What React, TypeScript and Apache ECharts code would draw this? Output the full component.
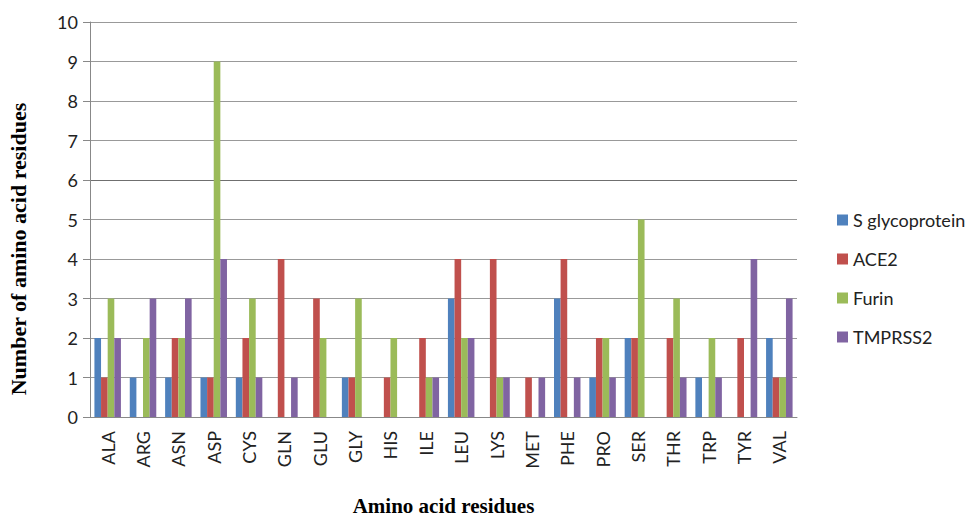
import React, { useEffect, useRef } from "react";
import * as echarts from "echarts";

const categories = ["ALA","ARG","ASN","ASP","CYS","GLN","GLU","GLY","HIS","ILE","LEU","LYS","MET","PHE","PRO","SER","THR","TRP","TYR","VAL"];
const sGlycoprotein = [2,1,1,1,1,0,0,1,0,0,3,0,0,3,1,2,0,1,0,2];
const ace2 =          [1,0,2,1,2,4,3,1,1,2,4,4,1,4,2,2,2,0,2,1];
const furin =         [3,2,2,9,3,0,2,3,2,1,2,1,0,0,2,5,3,2,0,1];
const tmprss2 =       [2,3,3,4,1,1,0,0,0,1,2,1,1,1,1,0,1,1,4,3];
const seriesNames = ["S glycoprotein","ACE2","Furin","TMPRSS2"];
const colors = ["#4F81BD","#C0504D","#9BBB59","#8064A2"];
const yTitle = "Number of amino acid residues";
const xTitle = "Amino acid residues";

export default function App() {
  const ref = useRef<HTMLDivElement>(null);
  useEffect(() => {
    const chart = echarts.init(ref.current!, null, { renderer: "svg" });
    const data = [sGlycoprotein, ace2, furin, tmprss2];
    const gridColors = ["#999","#999","#999","#999","#999","#999","#6f6f6f","#999","#999","#999","#999"];
    chart.setOption({
      animation: false,
      grid: { left: 90, right: 177, top: 22, bottom: 103, containLabel: false, outerBoundsMode: "none" },
      legend: {
        orient: "vertical",
        left: 832,
        top: 206,
        itemWidth: 11,
        itemHeight: 11,
        itemGap: 21,
        icon: "rect",
        textStyle: { fontFamily: "Lato", fontSize: 18, color: "#222" },
        data: seriesNames,
      },
      graphic: [
        {
          type: "text",
          x: 18,
          y: 249,
          rotation: Math.PI / 2,
          style: {
            text: yTitle,
            align: "center",
            verticalAlign: "middle",
            fontFamily: "Liberation Serif",
            fontWeight: "bold",
            fontSize: 22,
            fill: "#000",
          },
        },
      ],
      xAxis: {
        type: "category",
        data: categories,
        name: xTitle,
        nameLocation: "middle",
        nameGap: 78,
        nameTextStyle: { fontFamily: "Liberation Serif", fontWeight: "bold", fontSize: 21, color: "#000" },
        axisLine: { lineStyle: { color: "#888" } },
        axisTick: { length: 7, lineStyle: { color: "#888" } },
        axisLabel: { rotate: 90, margin: 14, fontFamily: "Lato", fontSize: 18, color: "#222" },
      },
      yAxis: {
        type: "value",
        min: 0,
        max: 10,
        interval: 1,
        axisLine: { show: true, lineStyle: { color: "#888" } },
        axisTick: { show: true, length: 7, lineStyle: { color: "#888" } },
        axisLabel: { margin: 12, fontFamily: "Lato", fontSize: 18, color: "#222" },
        splitLine: { lineStyle: { color: gridColors, width: 1 } },
      },
      series: data.map((d, i) => ({
        name: seriesNames[i],
        type: "bar",
        data: d,
        barGap: "0%",
        barCategoryGap: "25%",
        itemStyle: { color: colors[i] },
      })),
    });
    return () => chart.dispose();
  }, []);
  return <div ref={ref} style={{ position: "absolute", left: 0, top: 0, width: 974, height: 520 }} />;
}
